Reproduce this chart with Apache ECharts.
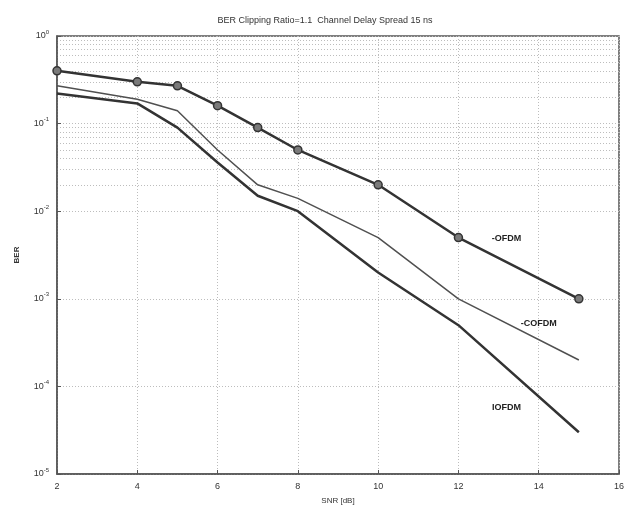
<!DOCTYPE html>
<html>
<head>
<meta charset="utf-8">
<style>
  html, body { margin: 0; padding: 0; background: #fff; }
  #chart { width: 627px; height: 512px; }
</style>
<script src="https://cdn.jsdelivr.net/npm/echarts@6/dist/echarts.min.js"></script>
</head>
<body>
<div id="chart"></div>
<script>
// SNR points (dB) and BER values for each modulation scheme
var snr = [2, 4, 5, 6, 7, 8, 10, 12, 15];
var berOFDM  = [0.40, 0.30, 0.27, 0.16, 0.09, 0.05, 0.02, 0.005, 0.001];
var berCOFDM = [0.27, 0.19, 0.14, 0.05, 0.02, 0.014, 0.005, 0.001, 0.0002];
var berIOFDM = [0.22, 0.17, 0.09, 0.036, 0.015, 0.010, 0.002, 0.0005, 0.00003];
var xTicks = [2, 4, 6, 8, 10, 12, 14, 16];
var yDecades = [-5, -4, -3, -2, -1, 0];

function pairs(ys) {
  return snr.map(function (x, i) { return [x, ys[i]]; });
}

// dotted minor grid at 2..9 x 10^n on the log axis
var minorY = [];
for (var d = -5; d < 0; d++) {
  for (var k = 2; k <= 9; k++) minorY.push({ yAxis: k * Math.pow(10, d) });
}

var font = 'Liberation Sans';
var ink = '#333';
var gridDot = { color: '#bdbdbd', type: [1, 2], width: 1 };

var chart = echarts.init(document.getElementById('chart'), null, { renderer: 'canvas' });
chart.setOption({
  animation: false,
  backgroundColor: '#fff',
  title: {
    text: 'BER Clipping Ratio=1.1  Channel Delay Spread 15 ns',
    left: 320, top: 11, textAlign: 'center',
    textStyle: { fontFamily: font, fontSize: 9, fontWeight: 'normal', color: '#333' }
  },
  grid: { left: 57, right: 4, top: 36, bottom: 38, show: true,
    borderColor: '#555', borderWidth: 1.5, backgroundColor: 'transparent' },
  xAxis: {
    type: 'value', min: 2, max: 16, interval: 2,
    name: 'SNR [dB]', nameLocation: 'middle', nameGap: 23,
    nameTextStyle: { fontFamily: font, fontSize: 8, color: '#333' },
    axisLine: { show: true, lineStyle: { color: '#555', width: 1.5 } },
    axisTick: { show: true, inside: true, length: 4, lineStyle: { color: '#555' } },
    axisLabel: { fontFamily: font, fontSize: 9, color: '#333', margin: 8,
      formatter: function (v) { return xTicks.indexOf(v) >= 0 ? String(v) : ''; } },
    splitLine: { show: true, lineStyle: gridDot }
  },
  yAxis: {
    type: 'log', logBase: 10, min: 1e-5, max: 1,
    name: 'BER', nameLocation: 'middle', nameGap: 36,
    nameTextStyle: { fontFamily: font, fontSize: 8, color: '#333', fontWeight: 'bold' },
    axisLine: { show: true, lineStyle: { color: '#555', width: 1.5 } },
    axisTick: { show: true, inside: true, length: 4, lineStyle: { color: '#555' } },
    axisLabel: {
      margin: 8,
      formatter: function (v) {
        var e = Math.round(Math.log10(v));
        return '{b|10}{s|' + e + '}';
      },
      rich: {
        b: { fontFamily: font, fontSize: 9, color: '#333' },
        s: { fontFamily: font, fontSize: 6, color: '#333', padding: [0, 0, 8, 0] }
      }
    },
    splitLine: { show: true, lineStyle: gridDot }
  },
  series: [
    {
      name: 'grid', type: 'line', data: [], silent: true, z: 0,
      markLine: {
        silent: true, symbol: 'none', label: { show: false }, z: 0,
        lineStyle: gridDot,
        data: minorY
      }
    },
    {
      name: 'OFDM', type: 'line', data: pairs(berOFDM), z: 4,
      symbol: 'circle', symbolSize: 8,
      lineStyle: { color: ink, width: 2.5 },
      itemStyle: { color: '#7a7a7a', borderColor: '#333', borderWidth: 1.5 },
      markPoint: {
        symbol: 'circle', symbolSize: 0,
        label: { show: true, formatter: '-OFDM', position: 'inside',
          fontFamily: font, fontSize: 9, fontWeight: 'bold', color: '#222' },
        data: [{ coord: [13.2, 0.0049] }]
      }
    },
    {
      name: 'COFDM', type: 'line', data: pairs(berCOFDM), z: 4,
      symbol: 'none',
      lineStyle: { color: '#505050', width: 1.5 },
      markPoint: {
        symbol: 'circle', symbolSize: 0,
        label: { show: true, formatter: '-COFDM', position: 'inside',
          fontFamily: font, fontSize: 9, fontWeight: 'bold', color: '#222' },
        data: [{ coord: [14.0, 0.00052] }]
      }
    },
    {
      name: 'IOFDM', type: 'line', data: pairs(berIOFDM), z: 4,
      symbol: 'none',
      lineStyle: { color: ink, width: 2.5 },
      markPoint: {
        symbol: 'circle', symbolSize: 0,
        label: { show: true, formatter: 'IOFDM', position: 'inside',
          fontFamily: font, fontSize: 9, fontWeight: 'bold', color: '#222' },
        data: [{ coord: [13.2, 0.000058] }]
      }
    }
  ]
});
</script>
</body>
</html>
